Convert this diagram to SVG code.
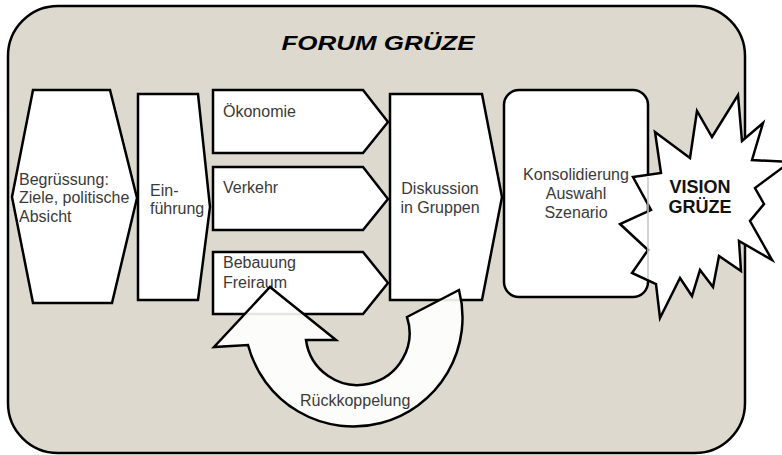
<svg xmlns="http://www.w3.org/2000/svg" width="782" height="455" viewBox="0 0 782 455">
<style>
.shape{fill:#fff;stroke:#000;stroke-width:2.5;stroke-linejoin:miter}
.lbl{font-family:"Liberation Sans",Arial,sans-serif;font-size:16px;fill:#3a3a3a}
.mid{text-anchor:middle}
.ghost{stroke:#c4c4c4;stroke-width:1.5;fill:none}
</style>
<rect id="frame" x="8" y="6" width="737" height="447" rx="50" ry="50" fill="#ddd9ce" stroke="#000" stroke-width="2.5"/>
<text x="378" y="50" text-anchor="middle" font-family="Liberation Sans, Arial, sans-serif" font-size="21" font-weight="bold" font-style="italic" fill="#000" textLength="193" lengthAdjust="spacingAndGlyphs">FORUM GRÜZE</text>
<g id="begruessung">
<polygon class="shape" points="33,90 110,90 137,198 112,303 33,303 12,197"/>
<text class="lbl" x="19" y="185">Begrüssung:</text>
<text class="lbl" x="19" y="203">Ziele, politische</text>
<text class="lbl" x="19" y="222">Absicht</text>
</g>
<g id="einfuehrung">
<polygon class="shape" points="138,94 198,94 210,207 198,300 138,300"/>
<text class="lbl" x="150" y="196">Ein-</text>
<text class="lbl" x="150" y="214">führung</text>
</g>
<g id="oekonomie">
<polygon class="shape" points="213,90 363,90 388,122 363,153 213,153"/>
<text class="lbl" x="223" y="117">Ökonomie</text>
</g>
<g id="verkehr">
<polygon class="shape" points="213,167 363,167 388,199 363,230 213,230"/>
<text class="lbl" x="223" y="193">Verkehr</text>
</g>
<g id="bebauung">
<polygon class="shape" points="213,252 363,252 388,283 363,314 213,314"/>
<text class="lbl" x="223" y="268">Bebauung</text>
<text class="lbl" x="223" y="288">Freiraum</text>
</g>
<g id="diskussion">
<polygon class="shape" points="390,94 482,94 502,197 482,300 390,300"/>
<text class="lbl mid" x="440" y="194">Diskussion</text>
<text class="lbl mid" x="440" y="213">in Gruppen</text>
</g>
<g id="konsolidierung">
<rect class="shape" x="504" y="90" width="144" height="207" rx="15" ry="15"/>
<text class="lbl mid" x="576" y="180">Konsolidierung</text>
<text class="lbl mid" x="576" y="199">Auswahl</text>
<text class="lbl mid" x="576" y="218">Szenario</text>
</g>
<g id="vision">
<polygon class="shape" points="633,177 661,173 655,132 690,158 697,111 712,137 738,95 742,141 763,123 752,160 790,162 755,188 764,204 750,221 772,260 739,241 741,271 719,256 713,287 700,270 692,296 680,278 660,318 656,284 632,273 648,250 620,224 651,210"/>
<line class="ghost" x1="648" y1="177" x2="648" y2="279"/>
<text x="700" y="193" text-anchor="middle" font-family="Liberation Sans, Arial, sans-serif" font-size="18" font-weight="bold" fill="#111">VISION</text>
<text x="700" y="213" text-anchor="middle" font-family="Liberation Sans, Arial, sans-serif" font-size="18" font-weight="bold" fill="#111">GRÜZE</text>
</g>
<g id="connectors">
<g id="rueckkopplung">
<path class="shape" fill-opacity="0.9" d="M270,287 L336,340 L306,340 A52,52 0 1 0 407,317 L459,290 A109,109 0 1 1 248,345 L214,347 Z"/>
<text class="lbl" x="300" y="406">Rückkoppelung</text>
</g>
</g>
</svg>
